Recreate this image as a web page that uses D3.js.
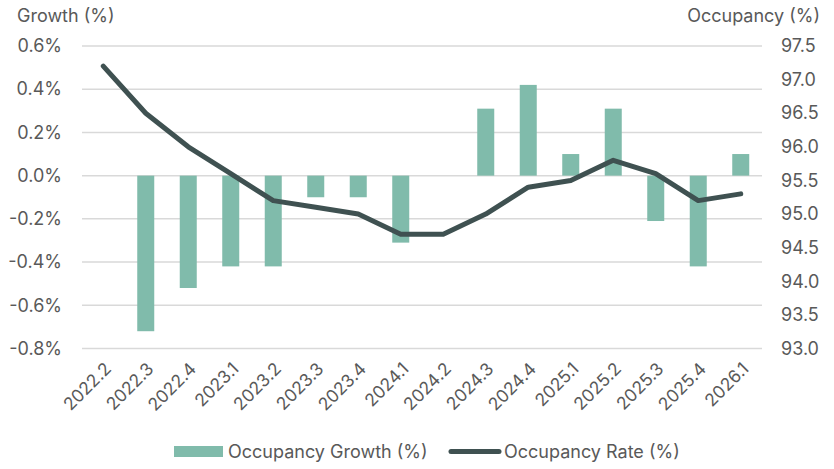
<!DOCTYPE html>
<html>
<head>
<meta charset="utf-8">
<script src="https://cdn.jsdelivr.net/npm/d3@7"></script>
<style>
  body { margin: 0; background: #fff; }
  text { font-family: Inter, "Noto Sans", sans-serif; fill: #595959; }
</style>
</head>
<body>
<div id="container"></div>
<script>
/* DATA */
const quarters = ["2022.2","2022.3","2022.4","2023.1","2023.2","2023.3","2023.4","2024.1",
  "2024.2","2024.3","2024.4","2025.1","2025.2","2025.3","2025.4","2026.1"];
// occupancy growth (%), null = no bar
const growth = [null, -0.72, -0.52, -0.42, -0.42, -0.1, -0.1, -0.31,
  null, 0.31, 0.42, 0.1, 0.31, -0.21, -0.42, 0.1];
// occupancy rate (%)
const rate = [97.2, 96.5, 96.0, 95.6, 95.2, 95.1, 95.0, 94.7,
  94.7, 95.0, 95.4, 95.5, 95.8, 95.6, 95.2, 95.3];
const leftTicks = [0.6, 0.4, 0.2, 0.0, -0.2, -0.4, -0.6, -0.8];
const rightTicks = [97.5, 97.0, 96.5, 96.0, 95.5, 95.0, 94.5, 94.0, 93.5, 93.0];

/* CONSTANTS */
const width = 834, height = 469,
  margin = {top: 46, bottom: 121, left: 82, right: 72};
const fontSize = 18;

const barColor = "#80bbab", lineColor = "#3f5151", gridColor = "#d9d9d9";

const svg = d3.select("#container").append("svg")
  .attr("width", width).attr("height", height);

const xScale = d3.scaleBand()
  .domain(quarters)
  .range([margin.left, width - margin.right])
  .paddingInner(0.6).paddingOuter(0.3);

const yLeft = d3.scaleLinear()
  .domain([-0.8, 0.6])
  .range([height - margin.bottom + 0.5, margin.top]);

const yRight = d3.scaleLinear()
  .domain([93.0, 97.5])
  .range([height - margin.bottom + 0.5, margin.top]);

// gridlines
svg.append("g").selectAll("line")
  .data(leftTicks)
  .join("line")
  .attr("x1", margin.left).attr("x2", width - margin.right)
  .attr("y1", d => yLeft(d)).attr("y2", d => yLeft(d))
  .attr("stroke", gridColor).attr("stroke-width", 1.5);

// left axis
const leftAxis = svg.append("g")
  .attr("transform", `translate(${margin.left - 20},0)`)
  .call(d3.axisLeft(yLeft).tickValues(leftTicks).tickSize(0).tickPadding(0)
    .tickFormat(d => d3.format(".1f")(d).replace("−", "-") + "%"));
leftAxis.select(".domain").remove();
leftAxis.selectAll("text").attr("font-size", fontSize).style("font-family", "Inter, sans-serif").attr("fill", "#595959");

// right axis
const rightAxis = svg.append("g")
  .attr("transform", `translate(781,0)`)
  .call(d3.axisRight(yRight).tickValues(rightTicks).tickSize(0).tickPadding(0)
    .tickFormat(d3.format(".1f")));
rightAxis.select(".domain").remove();
rightAxis.selectAll("text").attr("font-size", fontSize).style("font-family", "Inter, sans-serif").attr("fill", "#595959");

// axis titles
svg.append("text").attr("x", 17).attr("y", 22).attr("font-size", fontSize).text("Growth (%)");
svg.append("text").attr("x", 820).attr("y", 22).attr("font-size", fontSize)
  .attr("text-anchor", "end").text("Occupancy (%)");

// x labels
svg.append("g").selectAll("text")
  .data(quarters)
  .join("text")
  .attr("text-anchor", "end")
  .attr("font-size", 17.5)
  .attr("transform", d => `translate(${xScale(d) + xScale.bandwidth() / 2 + 9},${height - margin.bottom + 22}) rotate(-45)`)
  .text(d => d);

// bars
const barData = quarters.map((q, i) => ({q, v: growth[i]})).filter(d => d.v !== null);
svg.append("g").selectAll("rect")
  .data(barData)
  .join("rect")
  .attr("x", d => xScale(d.q))
  .attr("width", xScale.bandwidth())
  .attr("y", d => yLeft(Math.max(0, d.v)))
  .attr("height", d => Math.abs(yLeft(d.v) - yLeft(0)))
  .attr("fill", barColor);

// line
const line = d3.line()
  .x((d, i) => xScale(quarters[i]) + xScale.bandwidth() / 2)
  .y(d => yRight(d));
svg.append("path")
  .datum(rate)
  .attr("d", line)
  .attr("fill", "none")
  .attr("stroke", lineColor)
  .attr("stroke-width", 5)
  .attr("stroke-linejoin", "round")
  .attr("stroke-linecap", "round");

// legend
const legend = svg.append("g");
legend.append("rect").attr("x", 174).attr("y", 446).attr("width", 49).attr("height", 11).attr("fill", barColor);
legend.append("text").attr("x", 228).attr("y", 458).attr("font-size", fontSize).text("Occupancy Growth (%)");
legend.append("line").attr("x1", 451).attr("x2", 499).attr("y1", 451.5).attr("y2", 451.5)
  .attr("stroke", lineColor).attr("stroke-width", 5).attr("stroke-linecap", "round");
legend.append("text").attr("x", 504).attr("y", 458).attr("font-size", fontSize).text("Occupancy Rate (%)");
</script>
</body>
</html>
